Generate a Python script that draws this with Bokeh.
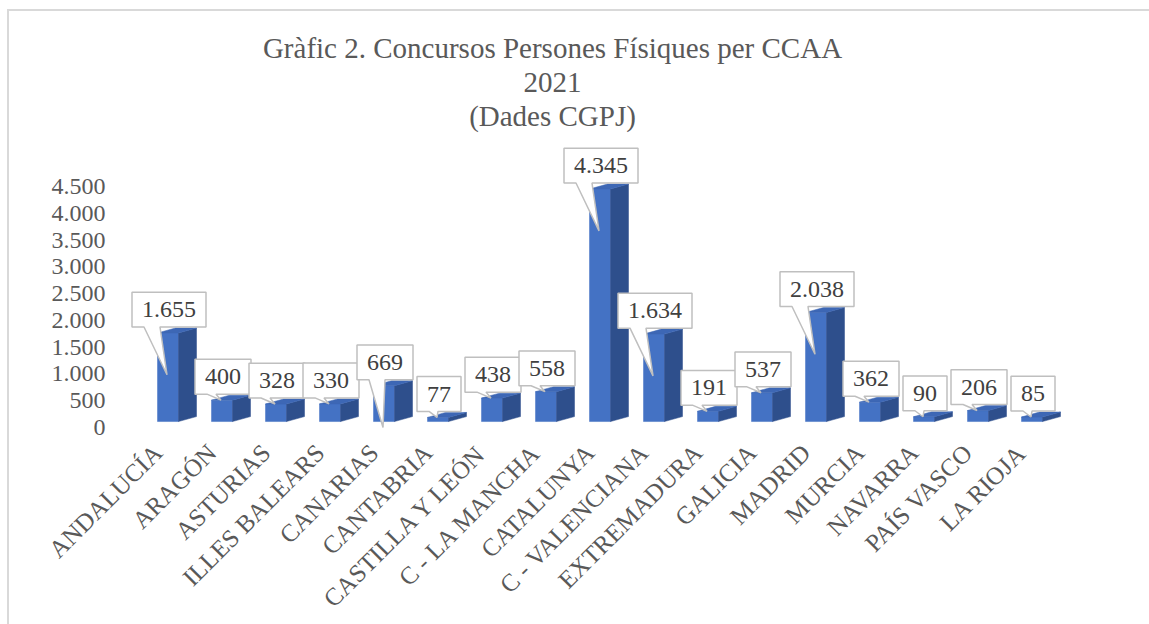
import math
from bokeh.plotting import figure
from bokeh.models import (Range1d, FixedTicker, Label, ColumnDataSource,
                          CustomJSTickFormatter)
from bokeh.core.properties import value
from bokeh.embed import file_html
from bokeh.resources import INLINE

# ---------------- data ----------------
categories = ["ANDALUCÍA", "ARAGÓN", "ASTURIAS", "ILLES BALEARS", "CANARIAS",
              "CANTABRIA", "CASTILLA Y LEÓN", "C - LA MANCHA", "CATALUNYA",
              "C - VALENCIANA", "EXTREMADURA", "GALICIA", "MADRID", "MURCIA",
              "NAVARRA", "PAÍS VASCO", "LA RIOJA"]
values = [1655, 400, 328, 330, 669, 77, 438, 558, 4345, 1634, 191, 537,
          2038, 362, 90, 206, 85]
y_ticks = [0, 500, 1000, 1500, 2000, 2500, 3000, 3500, 4000, 4500]
y_tick_labels = ["0", "500", "1.000", "1.500", "2.000", "2.500", "3.000",
                 "3.500", "4.000", "4.500"]
title_lines = ["Gràfic 2. Concursos Persones Físiques per CCAA", "2021",
               "(Dades CGPJ)"]

# ---------------- layout (page pixels) ----------------
OX, OY = 9, 11                  # figure origin on the page
W, H = 1140, 613
frame_left, frame_right = 120, 1100
frame_top, frame_bottom = 20, 432
zero_page = 423                 # page y of value 0 (bar front bottom)
BL = frame_left - OX
BR = (OX + W) - frame_right
BT = frame_top - OY
BB = (OY + H) - frame_bottom
frame_w = frame_right - frame_left
frame_h = frame_bottom - frame_top

slot_px = 54.0
first_center = 167.5
px_per_unit = 242.0 / 4500.0

ux = 1.0 / slot_px              # data units per px (x)
uy = 1.0 / px_per_unit          # data units per px (y)
x_start = -(first_center - frame_left) * ux
x_end = x_start + frame_w * ux
y_start = -(frame_bottom - zero_page) * uy
y_end = y_start + frame_h * uy

FONT = "Liberation Serif"
GRAY = "#595959"

p = figure(width=W, height=H, output_backend="svg", toolbar_location=None,
           x_range=Range1d(x_start, x_end), y_range=Range1d(y_start, y_end),
           min_border_left=BL, min_border_right=BR, min_border_top=BT,
           min_border_bottom=BB)
p.outline_line_color = None
p.xgrid.visible = False
p.ygrid.visible = False
p.background_fill_color = "white"
p.border_fill_color = "white"
p.styles = {"margin-left": f"{OX}px", "margin-top": f"{OY}px",
            "outline": "2px solid #d9d9d9"}

# ---------------- bars (pseudo 3D) ----------------
half_w = 10.5 * ux
dx = 18 * ux
dy = 5 * uy
idx = list(range(len(values)))

front = ColumnDataSource(dict(left=[i - half_w for i in idx],
                              right=[i + half_w for i in idx],
                              top=values, bottom=[0] * len(values)))
p.quad(left="left", right="right", top="top", bottom="bottom", source=front,
       fill_color="#4472C4", line_color="#4472C4", line_width=0.5)

side_xs, side_ys, top_xs, top_ys = [], [], [], []
for i, v in zip(idx, values):
    xl, xr = i - half_w, i + half_w
    side_xs.append([xr, xr + dx, xr + dx, xr])
    side_ys.append([0, dy, v + dy, v])
    top_xs.append([xl, xr, xr + dx, xl + dx])
    top_ys.append([v, v, v + dy, v + dy])
p.patches(side_xs, side_ys, fill_color="#2E4F8C", line_color="#2E4F8C",
          line_width=0.5)
p.patches(top_xs, top_ys, fill_color="#3D67B5", line_color="#3D67B5",
          line_width=0.5)

# ---------------- callout labels ----------------
c_xs, c_ys, t_x, t_y, t_text = [], [], [], [], []
for i, v in zip(idx, values):
    lab = f"{v:,}".replace(",", ".")
    tw = sum(6 if ch == "." else 12 for ch in lab)
    bw = tw + 20
    cx = i + 1 * ux
    B = v + 6 * uy
    T = B + 35 * uy
    L = cx - bw / 2 * ux
    R = cx + bw / 2 * ux
    tall = v > 600
    b1 = L + 12 * ux
    b2 = b1 + (16 if tall else 9) * ux
    tipx = i - 1 * ux
    tipy = v - 42 * uy if tall else v
    c_xs.append([L, R, R, b2, tipx, b1, L])
    c_ys.append([T, T, B, B, tipy, B, B])
    t_x.append(cx)
    t_y.append((B + T) / 2)
    t_text.append(lab)

p.patches(c_xs, c_ys, fill_color="white", line_color="#BFBFBF", line_width=1.5)
lab_src = ColumnDataSource(dict(x=t_x, y=t_y, text=t_text))
p.text(x="x", y="y", text="text", source=lab_src, text_font=value(FONT),
       text_font_size="24px", text_color="#404040", text_align="center",
       text_baseline="middle")

# ---------------- axes ----------------
y_label_shift = 6 * uy          # labels sit slightly below the bar scale
p.yaxis.ticker = FixedTicker(ticks=[t - y_label_shift for t in y_ticks])
p.yaxis.formatter = CustomJSTickFormatter(
    args=dict(vals=y_ticks, labels=y_tick_labels, s=y_label_shift),
    code="""
let best = 0;
for (let i = 0; i < vals.length; i++) {
  if (Math.abs(vals[i] - tick - s) < Math.abs(vals[best] - tick - s)) best = i;
}
return labels[best];
""")

label_shift = 10 * ux
p.xaxis.ticker = FixedTicker(ticks=[i - label_shift for i in idx])
p.xaxis.formatter = CustomJSTickFormatter(
    args=dict(cats=categories, s=label_shift),
    code="return cats[Math.round(tick + s)];")
p.xaxis.major_label_orientation = math.pi / 4
for ax in (p.xaxis[0], p.yaxis[0]):
    ax.axis_line_color = None
    ax.major_tick_line_color = None
    ax.minor_tick_line_color = None
    ax.major_label_text_font = FONT
    ax.major_label_text_color = GRAY
p.yaxis.major_label_text_font_size = "24px"
p.xaxis.major_label_text_font_size = "25px"
p.yaxis.major_label_standoff = 9
p.xaxis.major_label_standoff = 12

# ---------------- title ----------------
title_x = x_start + (552 - frame_left) * ux
for line, cy in zip(title_lines, [48, 82, 116]):
    p.add_layout(Label(x=title_x, y=(zero_page - cy) * uy, text=line,
                       text_font=FONT, text_font_size="29px",
                       text_color=GRAY, text_align="center",
                       text_baseline="middle"))

open("out.html", "w").write(file_html(p, INLINE))
